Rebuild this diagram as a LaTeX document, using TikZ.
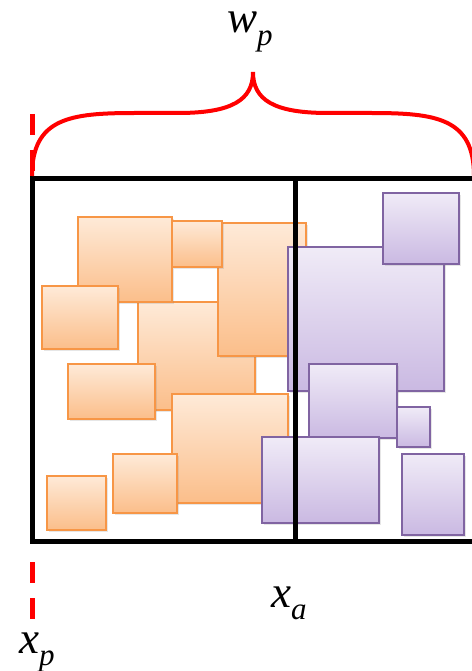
\documentclass[tikz,border=0pt]{standalone}
\usepackage{fontspec}
\setmainfont{Liberation Serif}
\usepackage{xcolor}
\usepackage{tikz}
\usetikzlibrary{shadows}
\definecolor{boxorange}{RGB}{247,150,70}
\definecolor{orangetop}{RGB}{254,234,216}
\definecolor{orangebot}{RGB}{251,190,138}
\definecolor{boxpurple}{RGB}{128,100,162}
\definecolor{purpletop}{RGB}{240,235,247}
\definecolor{purplebot}{RGB}{202,185,226}
\definecolor{bracered}{RGB}{255,0,0}
\newcommand{\varlabel}[2]{\fontsize{45}{45}\selectfont\itshape #1\raisebox{-0.27em}{\fontsize{31}{31}\selectfont #2}}

\begin{document}
\begin{tikzpicture}[
    x=1pt, y=-1pt,
    blk/.style={line width=2.2pt, drop shadow={shadow xshift=1.5pt, shadow yshift=-2pt, opacity=0.2}},
    orangeblk/.style={blk, draw=boxorange, top color=orangetop, bottom color=orangebot},
    purpleblk/.style={blk, draw=boxpurple, top color=purpletop, bottom color=purplebot},
    frame/.style={draw=black, line width=5pt, line join=miter},
    redline/.style={draw=bracered, line width=4pt},
    reddash/.style={redline, line width=5pt, dash pattern=on 21pt off 15pt},
    lbl/.style={anchor=base west, inner sep=0pt},
  ]
  \useasboundingbox (0,0) rectangle (471,671);
  % left part
  \foreach \xa/\ya/\xb/\yb in {138/302/255/410, 218/223/306/356, 78/217/172/302,
      172/221/222/267, 42/286/118/349, 68/364/155/419, 172/394/288/503,
      113/454/177/513, 47/476/106/530}
    \draw[orangeblk] (\xa,\ya) rectangle (\xb,\yb);
  % right part
  \foreach \xa/\ya/\xb/\yb in {288/247/444/391, 383/193/459/264, 309/364/397/438,
      397/407/430/447, 262/437/379/523, 402/454/464/535}
    \draw[purpleblk] (\xa,\ya) rectangle (\xb,\yb);
  % placement area
  \draw[frame] (32,178) rectangle (480,541);
  \draw[frame] (295.5,178) -- (295.5,541);
  % width brace
  \draw[redline] (32,176) .. controls (32,118) and (70,113) .. (135,113) -- (178,113)
    .. controls (232,113) and (253,100) .. (253,72)
    .. controls (253,100) and (274,113) .. (328,113) -- (371,113)
    .. controls (436,113) and (474,118) .. (474,176);
  \draw[reddash] (32,114) -- (32,178);
  \draw[reddash] (32,562) -- (32,620);
  % labels
  \node[lbl] (wp) at (227,33) {\varlabel{w}{p}};
  \node[lbl] (xa) at (271,607) {\varlabel{x}{a}};
  \node[lbl] (xp) at (19,653) {\varlabel{x}{p}};
\end{tikzpicture}
\end{document}
